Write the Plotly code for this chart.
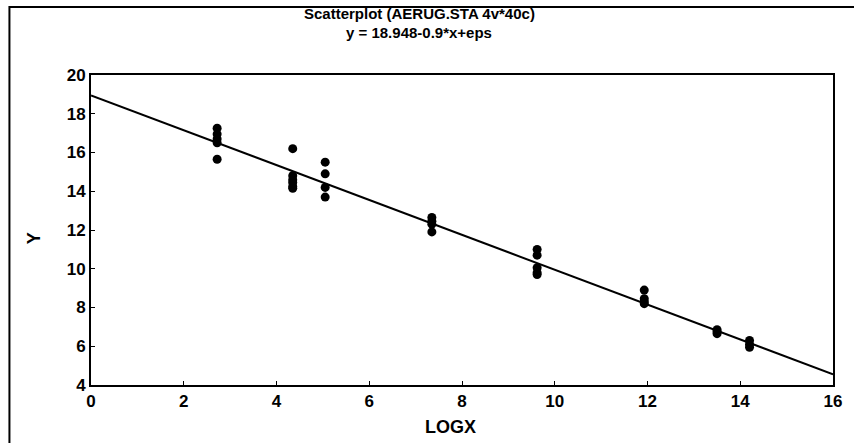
import plotly.graph_objects as go

# data
logx_vals = [2.72, 2.72, 2.72, 2.72, 2.72,
             4.35, 4.35, 4.35, 4.35, 4.35, 4.35,
             5.05, 5.05, 5.05, 5.05,
             7.35, 7.35, 7.35, 7.35,
             9.62, 9.62, 9.62, 9.62, 9.62,
             11.93, 11.93, 11.93, 11.93,
             13.5, 13.5, 13.5,
             14.2, 14.2, 14.2]
y_vals = [17.25, 16.95, 16.7, 16.5, 15.65,
          16.2, 14.8, 14.6, 14.45, 14.25, 14.15,
          15.5, 14.9, 14.2, 13.7,
          12.65, 12.45, 12.3, 11.9,
          11.0, 10.7, 10.05, 9.8, 9.7,
          8.9, 8.45, 8.3, 8.2,
          6.85, 6.75, 6.65,
          6.3, 6.1, 5.95]
intercept = 18.948
slope = -0.9
line_x = [0, 16]
line_y = [intercept + slope * v for v in line_x]
x_ticks = [0, 2, 4, 6, 8, 10, 12, 14, 16]
y_ticks = [4, 6, 8, 10, 12, 14, 16, 18, 20]
title_lines = ["Scatterplot (AERUG.STA 4v*40c)", "y = 18.948-0.9*x+eps"]
x_title = "LOGX"
y_title = "Y"

font_family = "Liberation Sans, Arial, sans-serif"

W, H = 854, 443
L, R, T, B = 91, 17, 75, 58
pw, ph = W - L - R, H - T - B


def px(xp):
    return (xp - L) / pw


def py(yp):
    return (H - B - yp) / ph


fig = go.Figure()
fig.add_trace(go.Scatter(x=line_x, y=line_y, mode="lines",
                         line=dict(color="black", width=2), showlegend=False))
fig.add_trace(go.Scatter(x=logx_vals, y=y_vals, mode="markers",
                         marker=dict(color="black", size=9, symbol="circle"),
                         showlegend=False))

fig.update_layout(
    width=W, height=H,
    paper_bgcolor="white", plot_bgcolor="white",
    margin=dict(l=L, r=R, t=T, b=B),
    font=dict(family=font_family, color="black"),
    xaxis=dict(range=[0, 16], tickvals=x_ticks, ticktext=[f"<b>{v}</b>" for v in x_ticks],
               showgrid=False, zeroline=False, showline=True, linecolor="black", linewidth=2,
               mirror=True, ticks="inside", ticklen=4, tickcolor="black",
               tickfont=dict(size=17, family=font_family)),
    yaxis=dict(range=[4, 20], tickvals=y_ticks, ticktext=[f"<b>{v}</b>" for v in y_ticks],
               showgrid=False, zeroline=False, showline=True, linecolor="black", linewidth=2,
               mirror=True, ticks="inside", ticklen=4, tickcolor="black",
               tickfont=dict(size=17, family=font_family)),
)

# two-line chart title
for txt, yp in zip(title_lines, [13, 33]):
    fig.add_annotation(text=f"<b>{txt}</b>", xref="paper", yref="paper",
                       x=px(421), y=py(yp),
                       xanchor="center", yanchor="middle", showarrow=False,
                       font=dict(size=15, family=font_family, color="black"))

# axis titles
fig.add_annotation(text=f"<b>{x_title}</b>", xref="paper", yref="paper",
                   x=px(452), y=py(427), xanchor="center", yanchor="middle",
                   showarrow=False, font=dict(size=18, family=font_family, color="black"))
fig.add_annotation(text=f"<b>{y_title}</b>", xref="paper", yref="paper",
                   x=px(34), y=py(238), xanchor="center", yanchor="middle",
                   textangle=-90, showarrow=False,
                   font=dict(size=18, family=font_family, color="black"))

# outer frame around the whole chart (left and top edges visible)
fig.add_shape(type="rect", xref="paper", yref="paper",
              x0=px(9), x1=px(W + 20),
              y0=py(H + 20), y1=py(7),
              line=dict(color="black", width=2), fillcolor="rgba(0,0,0,0)", layer="below")

fig.write_html("out.html", config={"displayModeBar": False},
               post_script="document.body.style.margin='0px';")
